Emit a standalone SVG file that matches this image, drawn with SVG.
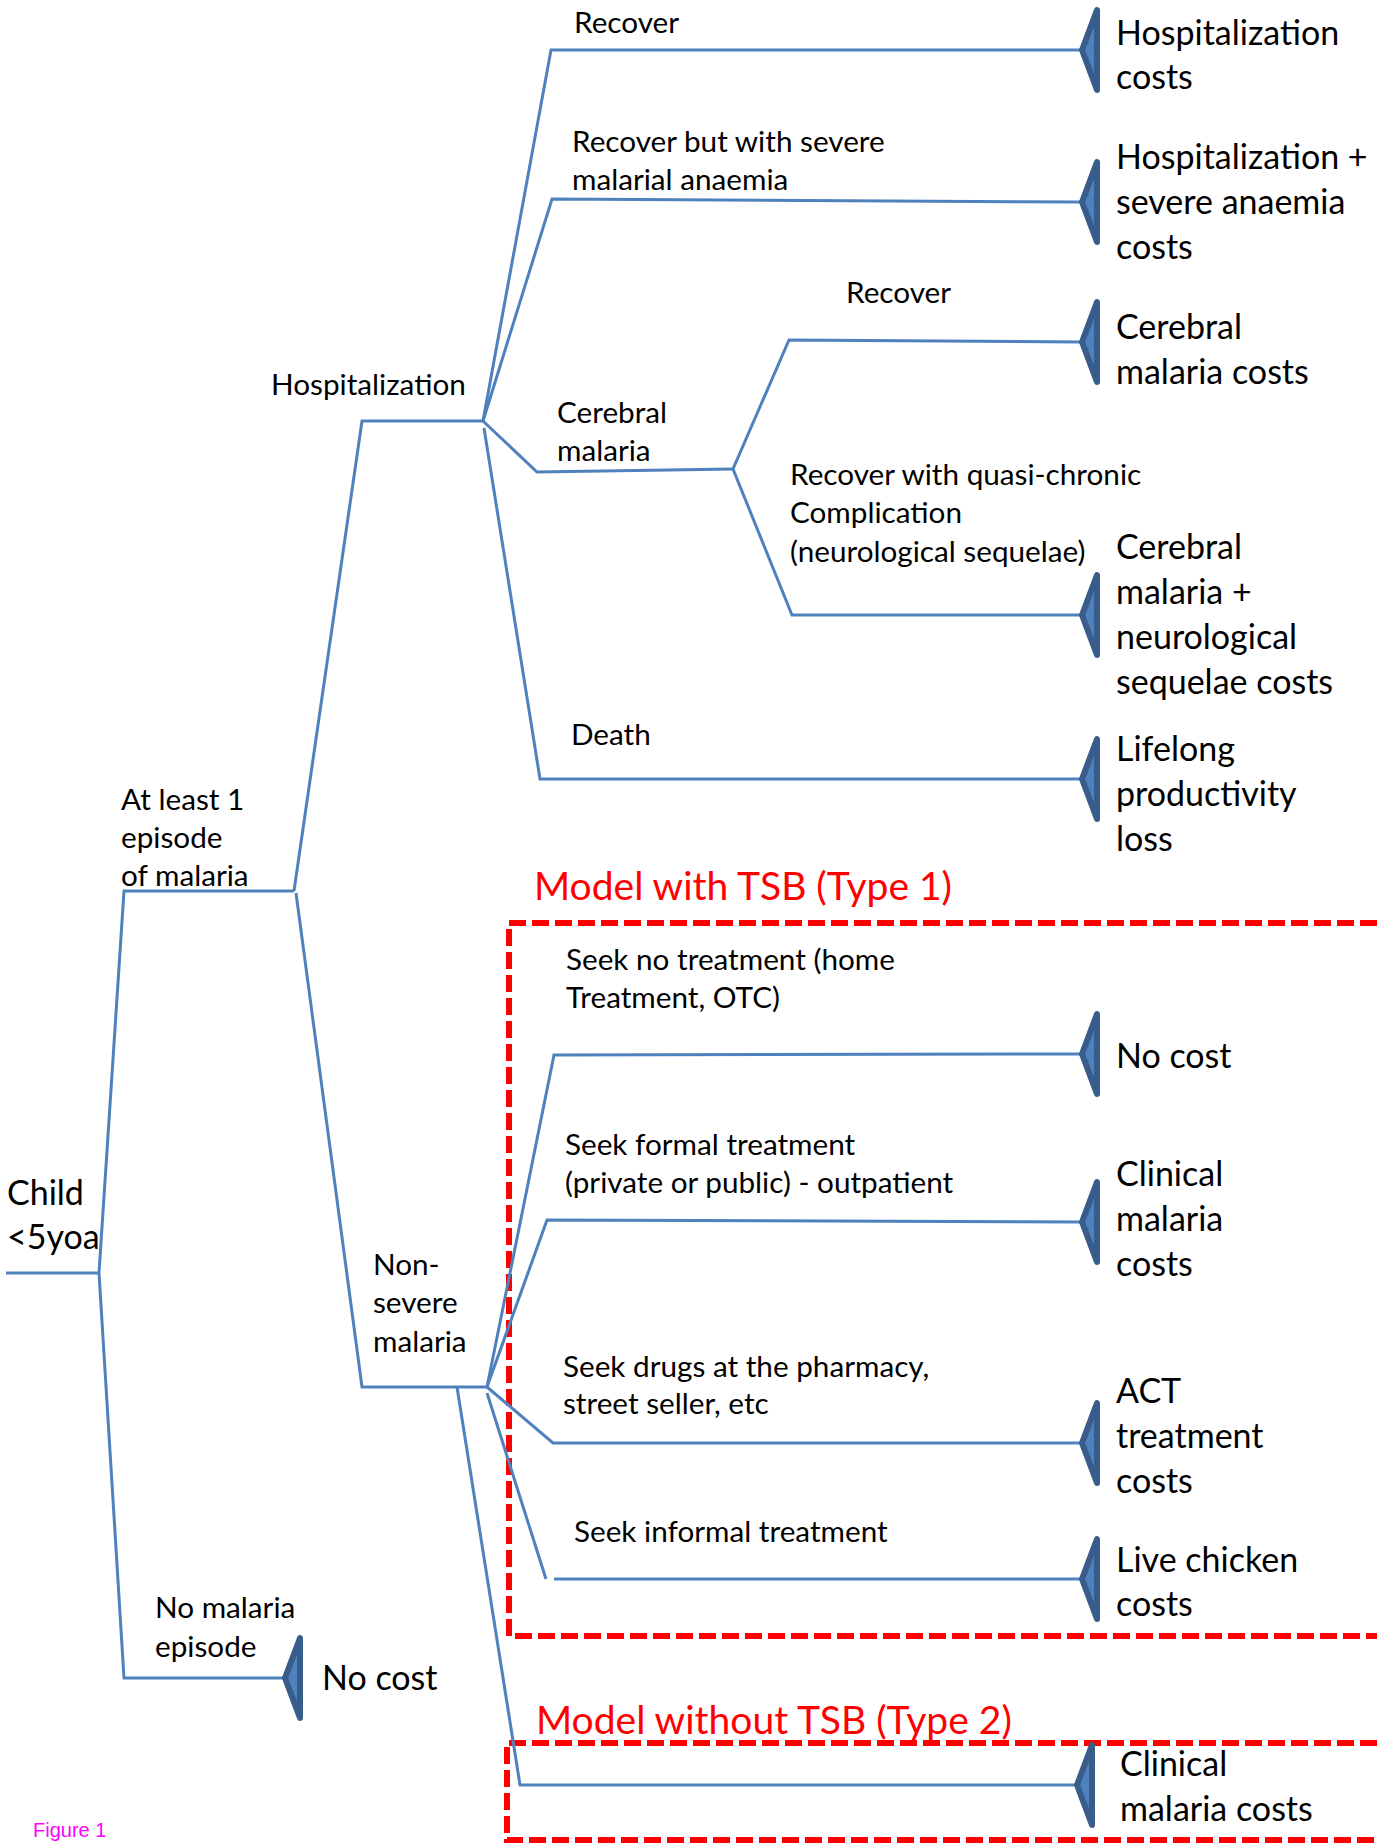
<svg xmlns="http://www.w3.org/2000/svg" xmlns:xlink="http://www.w3.org/1999/xlink" width="1377" height="1848" viewBox="0 0 1377 1848">
<style>
.ln{stroke:#4F81BD;stroke-width:3;fill:none;stroke-linejoin:miter}
.tri{fill:#4F81BD;stroke:#385D8A;stroke-width:6;stroke-linejoin:round}
text{font-family:Lato,"Open Sans","Liberation Sans",sans-serif;fill:#000}
.b{font-size:29.7px}
.e{font-size:34px}
.red{font-size:39px;fill:#FF0000}
.box{stroke:#FF0000;stroke-width:6;stroke-dasharray:17 6;fill:none}
.fig{font-family:"Liberation Sans",Arial,sans-serif;font-size:20px;fill:#FF00FF}
</style>
<defs>
<polygon id="tri" points="2,0 17,-40 17,40"/>
</defs>
<rect width="1377" height="1848" fill="#fff"/>

<g id="tsb-boxes">
<path class="box" d="M1400,923 H509 V1636 H1400"/>
<path class="box" d="M1400,1743 H507 V1840 H1400"/>
</g>

<g id="connectors">
<path class="ln" d="M6,1273 H99"/>
<path class="ln" d="M99,1273 L124,891 H294"/>
<path class="ln" d="M99,1273 L124,1678 H283"/>
<path class="ln" d="M294,891 L362,421 H483"/>
<path class="ln" d="M296,893 L362,1387 H487"/>
<path class="ln" d="M483,421 L551,50 H1080"/>
<path class="ln" d="M483,421 L552,199 L1080,202"/>
<path class="ln" d="M483,421 L537,472 L733,469"/>
<path class="ln" d="M484,428 L540,779 H1080"/>
<path class="ln" d="M733,469 L789,340 L1080,342"/>
<path class="ln" d="M733,469 L792,615 H1080"/>
<path class="ln" d="M487,1387 L554,1055 L1080,1054"/>
<path class="ln" d="M487,1387 L547,1220 L1080,1222"/>
<path class="ln" d="M487,1387 L553,1443 H1080"/>
<path class="ln" d="M487,1393 L546,1579"/>
<path class="ln" d="M554,1579 H1080"/>
<path class="ln" d="M457,1387 L520,1785 H1075"/>
</g>

<g id="root">
<text class="e" x="7" y="1205">Child</text>
<text class="e" x="7" y="1249">&lt;5yoa</text>
</g>

<g id="at-least-1">
<text class="b" x="121" y="810">At least 1</text>
<text class="b" x="121" y="848">episode</text>
<text class="b" x="121" y="886">of malaria</text>
</g>

<g id="no-malaria">
<text class="b" x="155" y="1618">No malaria</text>
<text class="b" x="155" y="1657">episode</text>
<use xlink:href="#tri" class="tri" x="283" y="1678"/>
<text class="e" x="322" y="1690">No cost</text>
</g>

<g id="hospitalization">
<text class="b" x="271" y="395">Hospitalization</text>
</g>

<g id="recover">
<text class="b" x="574" y="33">Recover</text>
<use xlink:href="#tri" class="tri" x="1080" y="50"/>
<text class="e" x="1116" y="45">Hospitalization</text>
<text class="e" x="1116" y="89">costs</text>
</g>

<g id="recover-anaemia">
<text class="b" x="572" y="152">Recover but with severe</text>
<text class="b" x="572" y="190">malarial anaemia</text>
<use xlink:href="#tri" class="tri" x="1080" y="202"/>
<text class="e" x="1116" y="169">Hospitalization +</text>
<text class="e" x="1116" y="214">severe anaemia</text>
<text class="e" x="1116" y="259">costs</text>
</g>

<g id="cerebral-malaria">
<text class="b" x="557" y="423">Cerebral</text>
<text class="b" x="557" y="461">malaria</text>
</g>

<g id="cerebral-recover">
<text class="b" x="846" y="303">Recover</text>
<use xlink:href="#tri" class="tri" x="1080" y="342"/>
<text class="e" x="1116" y="339">Cerebral</text>
<text class="e" x="1116" y="384">malaria costs</text>
</g>

<g id="cerebral-sequelae">
<text class="b" x="790" y="485">Recover with quasi-chronic</text>
<text class="b" x="790" y="523">Complication</text>
<text class="b" x="790" y="562">(neurological sequelae)</text>
<use xlink:href="#tri" class="tri" x="1080" y="615"/>
<text class="e" x="1116" y="559">Cerebral</text>
<text class="e" x="1116" y="604">malaria +</text>
<text class="e" x="1116" y="649">neurological</text>
<text class="e" x="1116" y="694">sequelae costs</text>
</g>

<g id="death">
<text class="b" x="571" y="745">Death</text>
<use xlink:href="#tri" class="tri" x="1080" y="779"/>
<text class="e" x="1116" y="761">Lifelong</text>
<text class="e" x="1116" y="806">productivity</text>
<text class="e" x="1116" y="851">loss</text>
</g>

<g id="non-severe">
<text class="b" x="373" y="1275">Non-</text>
<text class="b" x="373" y="1313">severe</text>
<text class="b" x="373" y="1352">malaria</text>
</g>

<g id="model-type1-label">
<text class="red" x="534" y="900">Model with TSB (Type 1)</text>
</g>

<g id="seek-no-treatment">
<text class="b" x="566" y="970">Seek no treatment (home</text>
<text class="b" x="566" y="1008">Treatment, OTC)</text>
<use xlink:href="#tri" class="tri" x="1080" y="1054"/>
<text class="e" x="1116" y="1068">No cost</text>
</g>

<g id="seek-formal">
<text class="b" x="565" y="1155">Seek formal treatment</text>
<text class="b" x="565" y="1193">(private or public) - outpatient</text>
<use xlink:href="#tri" class="tri" x="1080" y="1222"/>
<text class="e" x="1116" y="1186">Clinical</text>
<text class="e" x="1116" y="1231">malaria</text>
<text class="e" x="1116" y="1276">costs</text>
</g>

<g id="seek-drugs">
<text class="b" x="563" y="1377">Seek drugs at the pharmacy,</text>
<text class="b" x="563" y="1414">street seller, etc</text>
<use xlink:href="#tri" class="tri" x="1080" y="1443"/>
<text class="e" x="1116" y="1403">ACT</text>
<text class="e" x="1116" y="1448">treatment</text>
<text class="e" x="1116" y="1493">costs</text>
</g>

<g id="seek-informal">
<text class="b" x="574" y="1542">Seek informal treatment</text>
<use xlink:href="#tri" class="tri" x="1080" y="1579"/>
<text class="e" x="1116" y="1572">Live chicken</text>
<text class="e" x="1116" y="1616">costs</text>
</g>

<g id="model-type2-label">
<text class="red" x="536" y="1734">Model without TSB (Type 2)</text>
</g>

<g id="type2-clinical">
<use xlink:href="#tri" class="tri" x="1075" y="1785"/>
<text class="e" x="1120" y="1776">Clinical</text>
<text class="e" x="1120" y="1821">malaria costs</text>
</g>

<text class="fig" x="33" y="1837">Figure 1</text>
</svg>
